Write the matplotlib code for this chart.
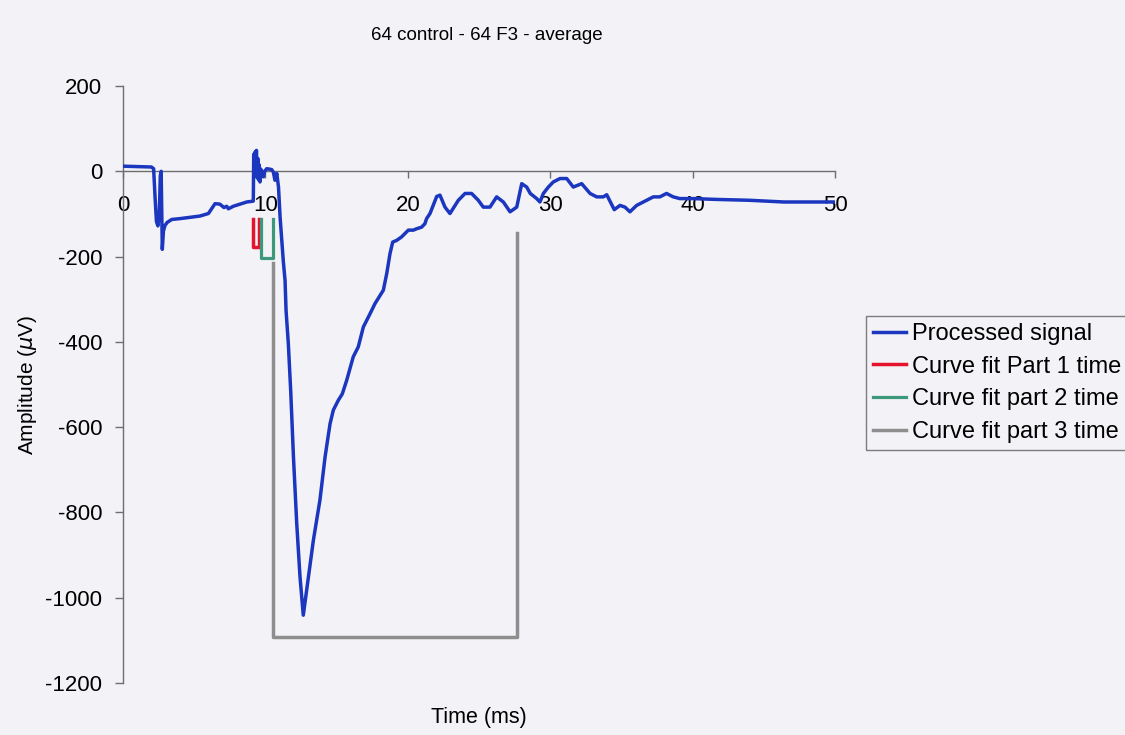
import matplotlib
matplotlib.use("Agg")
import matplotlib.pyplot as plt

# ---- data -------------------------------------------------------------
time_ms = [
    0.0, 1.0, 2.0, 2.15, 2.25, 2.35, 2.45, 2.55, 2.62, 2.68, 2.72, 2.76,
    2.84, 2.95, 3.1, 3.42, 4.0, 5.4, 6.0, 6.22, 6.46, 6.8, 7.09, 7.28,
    7.4, 7.75, 8.69, 9.15, 9.18, 9.22, 9.27, 9.32, 9.37, 9.42, 9.47, 9.52,
    9.57, 9.62, 9.67, 9.75, 9.86, 9.95, 10.09, 10.3, 10.44, 10.56, 10.67,
    10.8, 10.92, 11.03, 11.15, 11.26, 11.38, 11.45, 11.61, 11.78, 11.97,
    12.2, 12.43, 12.66, 12.9, 13.37, 13.83, 14.19, 14.54, 14.77, 15.12,
    15.4, 15.71, 16.17, 16.52, 16.88, 17.35, 17.7, 18.28, 18.52, 18.75,
    18.94, 19.22, 19.56, 20.04, 20.39, 20.6, 20.97, 21.2, 21.32, 21.56,
    22.03, 22.26, 22.61, 22.96, 23.55, 24.02, 24.48, 24.95, 25.3, 25.77,
    26.24, 26.71, 27.18, 27.65, 28.0, 28.35, 28.6, 29.05, 29.28, 29.52,
    29.87, 30.22, 30.69, 31.16, 31.62, 32.21, 32.8, 33.26, 33.73, 33.97,
    34.5, 34.9, 35.25, 35.6, 36.07, 36.54, 37.24, 37.7, 38.17, 38.64,
    39.1, 40.0, 41.7, 44.0, 46.4, 48.7, 50.0,
]
amplitude_uv = [
    12, 11, 10, 6, -60, -118, -128, -100, -10, 0, -90, -183,
    -140, -127, -120, -113, -111, -105, -99, -88, -76, -77, -85, -82,
    -88, -82, -72, -70, 40, -10, 45, 5, 49, -15, 30, -20,
    15, -25, 5, 0, -13, 0, 6, 5, 4, -2, -21,
    -5, -37, -107, -160, -212, -256, -326, -404, -517, -670,
    -826, -951, -1041, -982, -865, -771, -670, -592, -560, -537,
    -522, -490, -435, -412, -365, -334, -310, -279, -240, -193,
    -166, -162, -154, -138, -138, -135, -131, -123, -111, -99,
    -59, -56, -84, -99, -68, -52, -52, -68, -84, -84,
    -60, -72, -95, -84, -29, -37, -52, -64, -72, -52,
    -37, -25, -17, -17, -37, -29, -52, -60, -60, -55,
    -90, -80, -84, -95, -80, -72, -60, -60, -52, -60,
    -64, -64, -66, -68, -72, -72, -72,
]

# curve-fit window outlines (time in ms, amplitude in µV)
part1_t = [9.12, 9.12, 9.58, 9.58]
part1_v = [-113, -178, -178, -113]
part2_t = [9.66, 9.66, 10.56, 10.56]
part2_v = [-113, -204, -204, -113]
part3_t = [10.56, 10.56, 27.7, 27.7]
part3_v = [-216, -1093, -1093, -145]

x_ticks = [0, 10, 20, 30, 40, 50]
y_ticks = [200, 0, -200, -400, -600, -800, -1000, -1200]

title = "64 control - 64 F3 - average"
series_labels = ["Processed signal", "Curve fit Part 1 time",
                 "Curve fit part 2 time", "Curve fit part 3 time"]

# ---- style --------------------------------------------------------------
plt.rcParams["font.family"] = ["Liberation Sans", "DejaVu Sans"]

bg = "#f3f3f7"
axis_col = "#6e6e6e"
c_signal = "#1b36bf"
c_p1 = "#e3142c"
c_p2 = "#3c9878"
c_p3 = "#8e8e8e"

fig = plt.figure(figsize=(11.25, 7.35), dpi=100, facecolor=bg)
ax = fig.add_axes([123 / 1125, 1 - 683 / 735, (835 - 123) / 1125, (683 - 86) / 735])
ax.set_facecolor(bg)

ax.plot(time_ms, amplitude_uv, color=c_signal, lw=2.5, label=series_labels[0],
        solid_joinstyle="round", zorder=4)
ax.plot(part1_t, part1_v, color=c_p1, lw=2.5, label=series_labels[1], zorder=3)
ax.plot(part2_t, part2_v, color=c_p2, lw=2.3, label=series_labels[2], zorder=3)
ax.plot(part3_t, part3_v, color=c_p3, lw=2.5, label=series_labels[3], zorder=3)

ax.set_xlim(0, 50)
ax.set_ylim(-1200, 200)
ax.set_xticks(x_ticks)
ax.set_yticks(y_ticks)
ax.set_yticklabels([str(v) for v in y_ticks])

for s in ("top", "right"):
    ax.spines[s].set_visible(False)
ax.spines["bottom"].set_position(("data", 0))
for s in ("left", "bottom"):
    ax.spines[s].set_color(axis_col)
    ax.spines[s].set_linewidth(1.0)

ax.tick_params(axis="x", direction="out", length=5, width=1.0, color=axis_col,
               pad=12, labelsize=16)
ax.tick_params(axis="y", direction="out", length=6, width=1.0, color=axis_col,
               pad=9, labelsize=16)

ax.set_xlabel("Time (ms)", fontsize=15.5)
ax.xaxis.set_label_coords(0.5, -0.04)
ax.set_ylabel(r"Amplitude ($\mu$V)", fontsize=15)
ax.yaxis.set_label_coords(-0.118, 0.5)

fig.text(487 / 1125, 1 - 36 / 735, title, ha="center", va="center",
         fontsize=13.5)

leg = fig.legend(loc="upper left", bbox_to_anchor=(866 / 1125, 1 - 316 / 735),
                 fontsize=17, frameon=True, fancybox=False, handlelength=1.4,
                 handletextpad=0.25, labelspacing=0.45, borderpad=0.3,
                 borderaxespad=0.0)
leg.get_frame().set_edgecolor("#606060")
leg.get_frame().set_facecolor(bg)
leg.get_frame().set_linewidth(1.0)

fig.savefig("out.png", dpi=100, facecolor=bg)
